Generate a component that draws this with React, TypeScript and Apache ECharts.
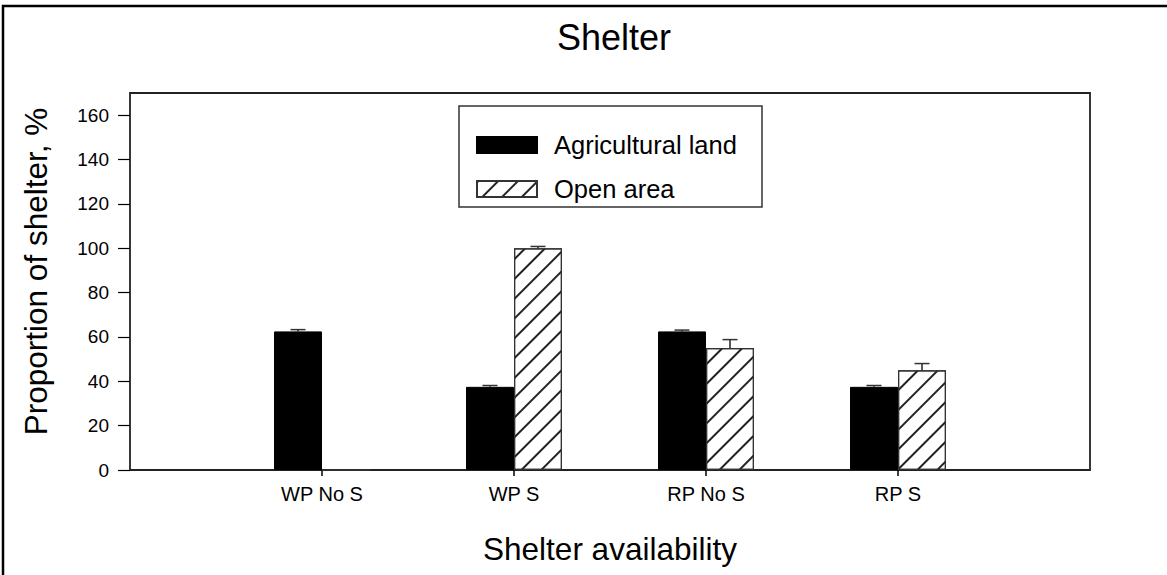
import React, { useEffect, useRef } from "react";
import * as echarts from "echarts";

const categories = ["WP No S", "WP S", "RP No S", "RP S"];
const agricultural = [62.5, 37.5, 62.5, 37.5];
const agriculturalErr = [0.8, 0.6, 0.6, 0.6];
const openArea = [0, 100, 55, 45];
const openAreaErr = [0, 0.8, 3.8, 3.0];
const yTicks = [0, 20, 40, 60, 80, 100, 120, 140, 160];

const FONT = "'Liberation Sans', Arial, sans-serif";

export default function App() {
  const ref = useRef<HTMLDivElement>(null);
  useEffect(() => {
    if (!ref.current) return;
    const chart = echarts.init(ref.current, null, { renderer: "svg" });
    const BAR_W = 48;
    const errSeries = (name: string, vals: number[], errs: number[], dx: number) => ({
      type: "custom",
      name,
      xAxisIndex: 1,
      yAxisIndex: 1,
      z: 5,
      data: vals.map((v, i) => [i, v, errs[i]]),
      encode: { x: 0, y: 1 },
      renderItem: (params: any, api: any) => {
        const x = api.value(0);
        const v = api.value(1);
        const e = api.value(2);
        if (!e) return null;
        const p0 = api.coord([x, v]);
        const p1 = api.coord([x, v + e]);
        const cx = p0[0] + dx;
        return {
          type: "group",
          children: [
            { type: "line", shape: { x1: cx, y1: p0[1], x2: cx, y2: p1[1] }, style: { stroke: "#222", lineWidth: 1.5 } },
            { type: "line", shape: { x1: cx - 7.5, y1: p1[1], x2: cx + 7.5, y2: p1[1] }, style: { stroke: "#333", lineWidth: 1.5 } },
          ],
        };
      },
    });
    chart.setOption({
      animation: false,
      textStyle: { fontFamily: FONT, color: "#000" },
      title: {
        text: "Shelter",
        left: 609,
        textAlign: "center",
        top: 14,
        textStyle: { fontFamily: FONT, fontSize: 36, fontWeight: "normal", color: "#000" },
      },
      graphic: [
        { type: "rect", shape: { x: 3, y: 6, width: 1200, height: 620 }, style: { fill: "none", stroke: "#000", lineWidth: 2.5 }, silent: true },
        { type: "rect", shape: { x: 459, y: 106, width: 303, height: 101 }, style: { fill: "none", stroke: "#333", lineWidth: 1.5 }, z: 10, silent: true },
      ],
      legend: {
        orient: "vertical",
        left: 476,
        top: 132,
        padding: 0,
        itemWidth: 60,
        itemHeight: 16,
        itemGap: 18,
        icon: "rect",
        data: ["Agricultural land", "Open area"],
        textStyle: { fontFamily: FONT, fontSize: 25.5, color: "#000", lineHeight: 16, padding: [0, 0, 0, 12] },
      },
      grid: [
        { left: 130, right: 77, top: 93, bottom: 105, show: true, borderColor: "#222", borderWidth: 1.8, backgroundColor: "transparent" },
        { left: 226, right: 173, top: 93, bottom: 105 },
      ],
      xAxis: [
        { type: "value", gridIndex: 0, min: 0, max: 1, show: false },
        {
          type: "category",
          gridIndex: 1,
          data: categories,
          axisLine: { show: false },
          axisTick: { show: true, alignWithLabel: true, length: 6, lineStyle: { color: "#000", width: 1.5 } },
          axisLabel: { fontFamily: FONT, fontSize: 20, color: "#000", margin: 14 },
          name: "Shelter availability",
          nameLocation: "middle",
          nameGap: 63,
          nameTextStyle: { fontFamily: FONT, fontSize: 31.5, color: "#000" },
        },
      ],
      yAxis: [
        {
          type: "value",
          gridIndex: 0,
          min: 0,
          max: 170,
          interval: 20,
          axisLine: { show: false },
          splitLine: { show: false },
          axisTick: { show: true, length: 12, customValues: yTicks, lineStyle: { color: "#000", width: 1.2 } },
          axisLabel: { fontFamily: FONT, fontSize: 19, color: "#000", margin: 21, customValues: yTicks },
          name: "Proportion of shelter, %",
          nameLocation: "middle",
          nameGap: 78,
          nameTextStyle: { fontFamily: FONT, fontSize: 31.5, color: "#000", padding: [0, 0, 0, 20] },
        },
        { type: "value", gridIndex: 1, min: 0, max: 170, show: false },
      ],
      series: [
        {
          name: "Agricultural land",
          type: "bar",
          xAxisIndex: 1,
          yAxisIndex: 1,
          barWidth: BAR_W,
          barGap: "0%",
          data: agricultural,
          itemStyle: { color: "#000", borderColor: "#000", borderWidth: 1 },
        },
        {
          name: "Open area",
          type: "bar",
          xAxisIndex: 1,
          yAxisIndex: 1,
          barWidth: BAR_W,
          barGap: "0%",
          data: openArea,
          itemStyle: {
            color: "#fff",
            borderColor: "#333",
            borderWidth: 1.2,
            decal: {
              symbol: "rect",
              symbolSize: 1,
              color: "#222",
              dashArrayX: [1, 0],
              dashArrayY: [1.2, 12],
              rotation: -Math.PI / 4,
            },
          },
        },
        errSeries("errA", agricultural, agriculturalErr, -BAR_W / 2),
        errSeries("errO", openArea, openAreaErr, BAR_W / 2),
      ],
    });
    return () => chart.dispose();
  }, []);
  return <div ref={ref} style={{ position: "fixed", left: 0, top: 0, width: 1167, height: 575, background: "#fff" }} />;
}
